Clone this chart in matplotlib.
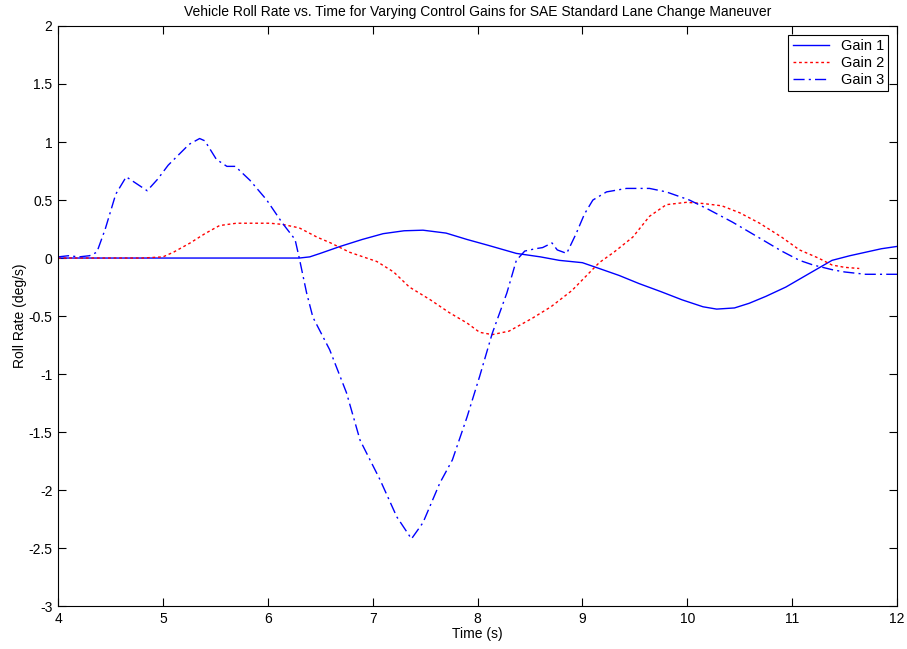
import matplotlib
matplotlib.use("Agg")
import matplotlib.pyplot as plt
from matplotlib import font_manager

names = {f.name for f in font_manager.fontManager.ttflist}
fam = [f for f in ["Liberation Sans Narrow", "Liberation Sans", "DejaVu Sans"] if f in names]
plt.rcParams['font.family'] = fam

t1 = [4.0, 6.3, 6.4, 6.5, 6.69, 6.9, 7.1, 7.3, 7.48, 7.7, 7.9, 8.1, 8.37, 8.6, 8.78, 9.0, 9.16,
      9.35, 9.54, 9.75, 9.95, 10.15, 10.28, 10.45, 10.59, 10.75, 10.94, 11.15, 11.38, 11.55,
      11.7, 11.85, 12.0]
gain1 = [0, 0, 0.01, 0.04, 0.10, 0.16, 0.21, 0.235, 0.24, 0.215, 0.16, 0.11, 0.04, 0.01, -0.02,
         -0.04, -0.09, -0.15, -0.22, -0.29, -0.36, -0.42, -0.44, -0.43, -0.39, -0.33, -0.25,
         -0.14, -0.02, 0.02, 0.05, 0.08, 0.10]

t2 = [4.0, 4.8, 5.0, 5.1, 5.26, 5.4, 5.54, 5.7, 5.83, 6.02, 6.14, 6.3, 6.47, 6.6, 6.78, 7.04,
      7.2, 7.35, 7.55, 7.73, 7.9, 8.02, 8.14, 8.3, 8.52, 8.7, 8.9, 9.16, 9.3, 9.48, 9.64, 9.8,
      9.99, 10.15, 10.33, 10.5, 10.69, 10.9, 11.07, 11.25, 11.38, 11.5, 11.64]
gain2 = [0.0, 0.0, 0.01, 0.05, 0.13, 0.21, 0.28, 0.30, 0.30, 0.30, 0.29, 0.26, 0.18, 0.13, 0.05,
         -0.03, -0.12, -0.25, -0.36, -0.47, -0.56, -0.64, -0.66, -0.63, -0.52, -0.42, -0.28,
         -0.04, 0.05, 0.18, 0.36, 0.46, 0.48, 0.47, 0.45, 0.39, 0.30, 0.18, 0.07, 0.0, -0.06,
         -0.08, -0.09]

t3 = [4.0, 4.1, 4.2, 4.3, 4.37, 4.45, 4.55, 4.65, 4.75, 4.85, 4.95, 5.05, 5.15, 5.25, 5.35,
      5.40, 5.51, 5.61, 5.69, 5.83, 5.99, 6.14, 6.26, 6.30, 6.37, 6.43, 6.59, 6.75, 6.88, 7.07,
      7.23, 7.37, 7.48, 7.64, 7.76, 7.90, 8.02, 8.14, 8.28, 8.37, 8.45, 8.55, 8.62, 8.71, 8.76,
      8.85, 8.94, 9.02, 9.10, 9.23, 9.42, 9.64, 9.80, 10.02, 10.2, 10.43, 10.6, 10.75, 10.9,
      11.07, 11.2, 11.38, 11.5, 11.7, 12.0]
gain3 = [0.01, 0.02, 0.01, 0.02, 0.05, 0.25, 0.55, 0.70, 0.64, 0.58, 0.68, 0.80, 0.89, 0.98,
         1.03, 1.01, 0.85, 0.79, 0.79, 0.67, 0.50, 0.30, 0.16, 0.0, -0.30, -0.51, -0.79, -1.16,
         -1.57, -1.91, -2.23, -2.42, -2.28, -1.94, -1.74, -1.37, -1.02, -0.65, -0.30, -0.02,
         0.06, 0.08, 0.09, 0.13, 0.07, 0.04, 0.21, 0.38, 0.50, 0.57, 0.60, 0.60, 0.57, 0.50,
         0.42, 0.31, 0.22, 0.14, 0.06, -0.02, -0.06, -0.10, -0.12, -0.14, -0.14]

labels = ["Gain 1", "Gain 2", "Gain 3"]
xticks = [4, 5, 6, 7, 8, 9, 10, 11, 12]
yticks = [-3, -2.5, -2, -1.5, -1, -0.5, 0, 0.5, 1, 1.5, 2]
yticklabels = ["-3", "-2.5", "-2", "-1.5", "-1", "-0.5", "0", "0.5", "1", "1.5", "2"]

fig = plt.figure(figsize=(9.07, 6.49), dpi=100)
ax = fig.add_axes([0.064, 0.066, 0.925, 0.894])
ax.plot(t1, gain1, color=(0, 0, 1), lw=1.0, label=labels[0])
ax.plot(t2, gain2, color=(1, 0, 0), lw=1.0, ls=(0, (2, 2)), label=labels[1])
ax.plot(t3, gain3, color=(0, 0, 1), lw=1.0, ls=(0, (8, 3, 1.5, 3)), label=labels[2])

ax.set_xlim(4, 12)
ax.set_ylim(-3, 2)
ax.set_xticks(xticks)
ax.set_yticks(yticks)
ax.set_yticklabels(yticklabels)
ax.tick_params(direction='in', top=True, right=True, length=6, labelsize=10, width=0.8)
ax.tick_params(axis='y', pad=4)
ax.tick_params(axis='x', pad=4)
for s in ax.spines.values():
    s.set_linewidth(0.8)
ax.set_title("Vehicle Roll Rate vs. Time for Varying Control Gains for SAE Standard Lane Change Maneuver",
             fontsize=10, pad=7)
ax.set_xlabel("Time (s)", fontsize=10, labelpad=1)
ax.set_ylabel("Roll Rate (deg/s)", fontsize=10, labelpad=1)
leg = ax.legend(loc='upper right', fontsize=10.5, fancybox=False, framealpha=1,
                edgecolor='black', borderaxespad=0.6, handlelength=2.5, borderpad=0.3,
                labelspacing=0.2)
leg.get_frame().set_linewidth(0.8)
fig.savefig("out.png", dpi=100)
